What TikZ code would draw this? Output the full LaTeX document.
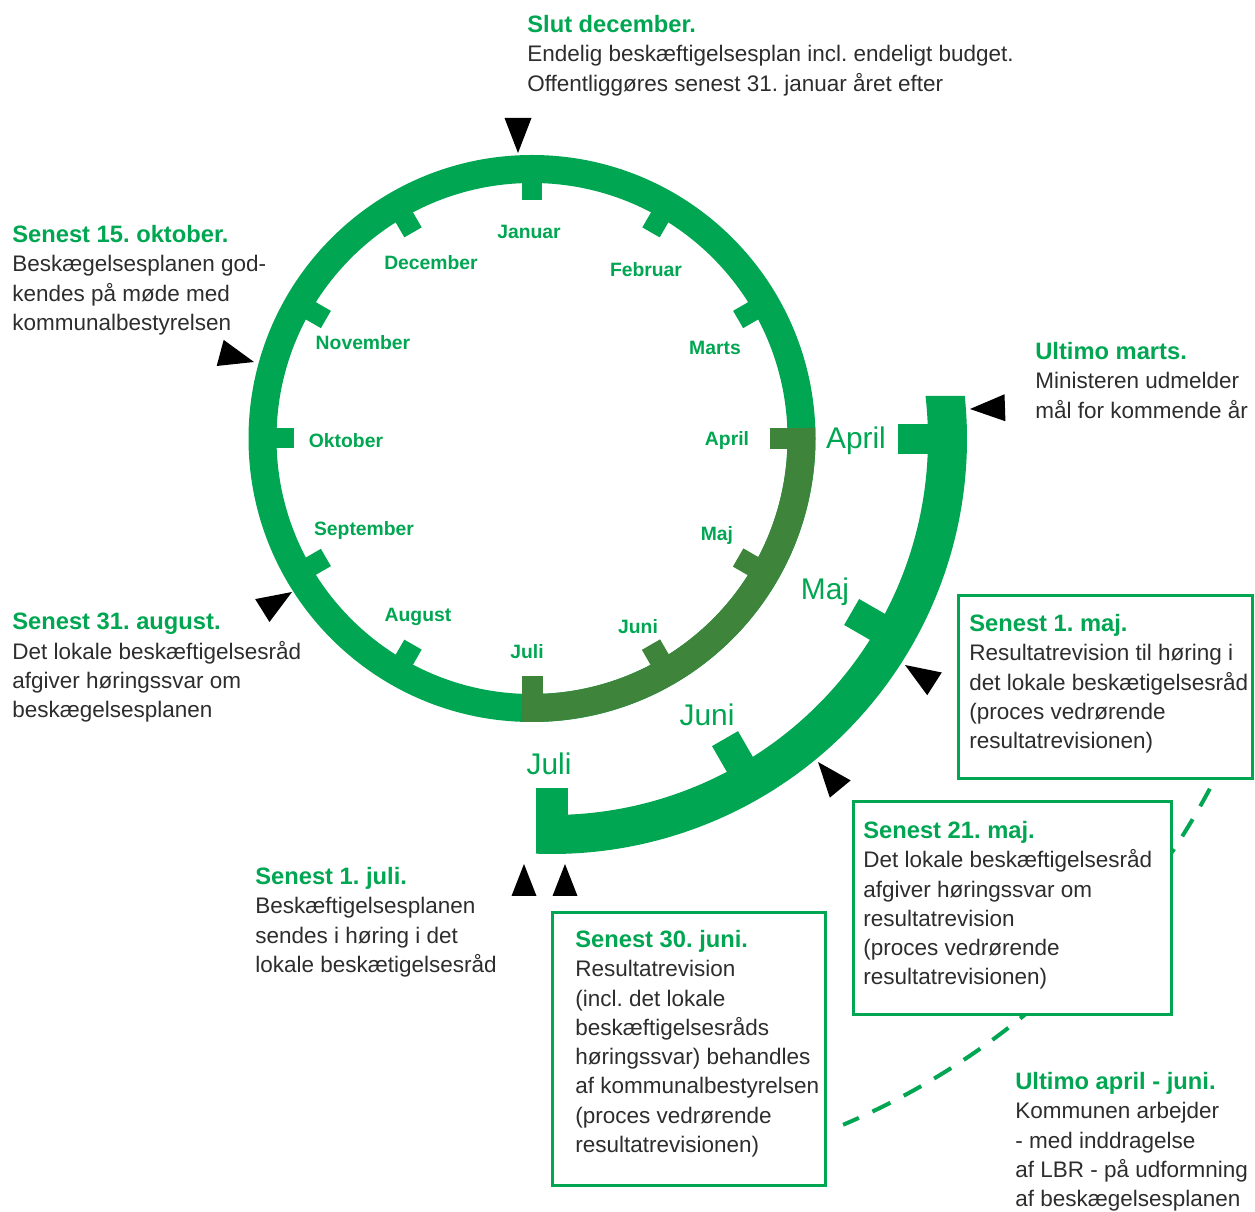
\documentclass[tikz,border=0pt]{standalone}
\usepackage{fontspec}
\setmainfont{Liberation Sans}
\definecolor{lg}{RGB}{0,166,81}
\definecolor{dg}{RGB}{62,132,58}
\definecolor{tx}{RGB}{45,45,45}
\newcommand\myhead[1]{{\color{lg}\bfseries\fontsize{13.5}{16.65}\selectfont #1}}
\frenchspacing
\begin{document}
\begin{tikzpicture}[x=0.02cm,y=0.02cm,
  txt/.style={anchor=north west,inner sep=0pt,align=left,text=tx,font=\fontsize{12.8}{16.65}\selectfont},
  mon/.style={text=lg,inner sep=0pt,font=\fontsize{11}{13}\selectfont\bfseries},
  bigmon/.style={text=lg,inner sep=0pt,font=\fontsize{17}{20}\selectfont},
  box/.style={draw=lg,line width=0.06cm,fill=white,inner sep=0pt},
  tri/.style={fill=black},
  dashline/.style={draw=lg,line width=0.08cm,dash pattern=on 0.4cm off 0.3cm}]
\useasboundingbox (0,0) rectangle (1255,-1212);

% main ring
\coordinate (c1) at (532,-438.5);
\coordinate (c2) at (552,-439);
\fill[lg,even odd rule] (c1) circle[radius=283.5] (c1) circle[radius=255.5];
\fill[dg,shift={(c1)}] (2.2:283.5) arc[start angle=2.2,end angle=-92.2,radius=283.5]
  -- (-92.2:255.5) arc[start angle=-92.2,end angle=2.2,radius=255.5] -- cycle;
\foreach \a in {90,60,30,-120,-150,180,150,120}
  \fill[lg,shift={(c1)},rotate=\a] (238,-10) rectangle (270,10);
\foreach \a in {0,-30,-60,-90}
  \fill[dg,shift={(c1)},rotate=\a] (238,-10.5) rectangle (270,10.5);

% outer band
\fill[lg,shift={(c2)}] (6.57:376) -- (5.95:415) arc[start angle=5.95,end angle=-92.2,radius=415]
  -- (-92.44:376) arc[start angle=-92.44,end angle=6.57,radius=376] -- cycle;
\foreach \a in {0,-30,-60}
  \fill[lg,shift={(c2)},rotate=\a] (346,-15) rectangle (380,15);
\fill[lg,shift={(c2)},rotate=-90] (349,-16) rectangle (380,16);

% inner month labels
\node[mon] (mjan) at (529,-232) {Januar};
\node[mon] (mfeb) at (646,-270) {Februar};
\node[mon] (mmar) at (715,-348) {Marts};
\node[mon] (mapr) at (727,-441) {April};
\node[mon] (mmaj) at (717,-536) {Maj};
\node[mon] (mjun) at (638,-627) {Juni};
\node[mon] (mjul) at (527,-652) {Juli};
\node[mon] (maug) at (418,-617) {August};
\node[mon] (msep) at (364,-531) {September};
\node[mon] (mokt) at (346,-441) {Oktober};
\node[mon] (mnov) at (363,-343) {November};
\node[mon] (mdec) at (431,-263) {December};

% outer month labels
\node[bigmon] (oapr) at (856,-441) {April};
\node[bigmon] (omaj) at (825,-592) {Maj};
\node[bigmon] (ojun) at (707,-715) {Juni};
\node[bigmon] (ojul) at (549,-764) {Juli};

% dashed arc
\draw[dashline,shift={(c2)}] (-28:745) arc[start angle=-28,end angle=-67,radius=745];

% boxes
\node[box,minimum width=5.9cm,minimum height=3.66cm] (b1) at (1105.5,-687) {};
\node[box,minimum width=6.36cm,minimum height=4.26cm] (b2) at (1012.5,-908) {};
\node[box,minimum width=5.46cm,minimum height=5.46cm] (b3) at (689,-1049) {};

% triangles
\fill[tri,shift={(518,-153)},rotate=-90] (0,0) -- (-35,13.5) -- (-35,-13.5) -- cycle;
\fill[tri,shift={(254,-362)},rotate=-15] (0,0) -- (-35,13.5) -- (-35,-13.5) -- cycle;
\fill[tri,shift={(292,-592)},rotate=32] (0,0) -- (-35,13.5) -- (-35,-13.5) -- cycle;
\fill[tri,shift={(970,-409)},rotate=182] (0,0) -- (-35,13.5) -- (-35,-13.5) -- cycle;
\fill[tri,shift={(905,-665)},rotate=147.4] (0,0) -- (-35,13.5) -- (-35,-13.5) -- cycle;
\fill[tri,shift={(818,-762)},rotate=129.5] (0,0) -- (-35,13.5) -- (-35,-13.5) -- cycle;
\fill[tri,shift={(524,-864)},rotate=90] (0,0) -- (-32,12.5) -- (-32,-12.5) -- cycle;
\fill[tri,shift={(565,-864)},rotate=90] (0,0) -- (-32,12.5) -- (-32,-12.5) -- cycle;

% texts
\node[txt] (t1) at (527,-15) {\myhead{Slut december.}\\Endelig beskæftigelsesplan incl. endeligt budget.\\Offentliggøres senest 31. januar året efter};
\node[txt] (t2) at (12,-225) {\myhead{Senest 15. oktober.}\\Beskægelsesplanen god-\\kendes på møde med\\kommunalbestyrelsen};
\node[txt] (t3) at (1035,-342) {\myhead{Ultimo marts.}\\Ministeren udmelder\\mål for kommende år};
\node[txt] (t4) at (12,-613) {\myhead{Senest 31. august.}\\Det lokale beskæftigelsesråd\\afgiver høringssvar om\\beskægelsesplanen};
\node[txt] (t5) at (255,-867) {\myhead{Senest 1. juli.}\\Beskæftigelsesplanen\\sendes i høring i det\\lokale beskætigelsesråd};
\node[txt] (t6) at (969,-614) {\myhead{Senest 1. maj.}\\Resultatrevision til høring i\\det lokale beskætigelsesråd\\(proces vedrørende\\resultatrevisionen)};
\node[txt] (t7) at (863,-821) {\myhead{Senest 21. maj.}\\Det lokale beskæftigelsesråd\\afgiver høringssvar om\\resultatrevision\\(proces vedrørende\\resultatrevisionen)};
\node[txt] (t8) at (575,-930) {\myhead{Senest 30. juni.}\\Resultatrevision\\(incl. det lokale\\beskæftigelsesråds\\høringssvar) behandles\\af kommunalbestyrelsen\\(proces vedrørende\\resultatrevisionen)};
\node[txt] (t9) at (1015,-1072) {\myhead{Ultimo april - juni.}\\Kommunen arbejder\\- med inddragelse\\af LBR - på udformning\\af beskægelsesplanen};
\end{tikzpicture}
\end{document}
